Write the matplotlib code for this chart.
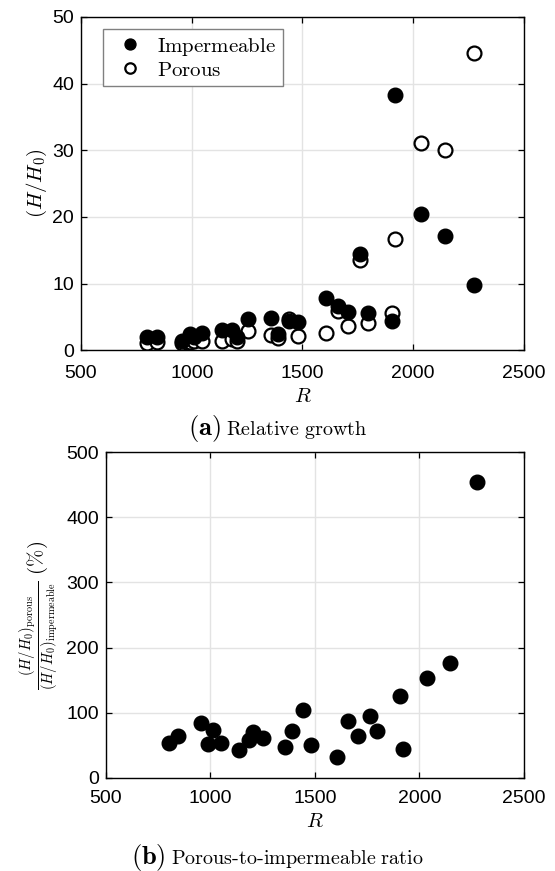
# Relative growth of H for impermeable vs porous cases, and porous/impermeable ratio
import matplotlib
matplotlib.use("Agg")
import matplotlib.pyplot as plt

# R values (shared by both panels)
R = [800, 845, 957, 990, 1010, 1048, 1137, 1182, 1205, 1252, 1358, 1389,
     1441, 1480, 1605, 1660, 1705, 1761, 1796, 1905, 1919, 2035, 2144, 2276]
# (H/H0) impermeable
H_imp = [1.95, 1.9, 1.3, 2.4, 1.9, 2.6, 3.0, 3.0, 1.9, 4.6, 4.75, 2.4,
         4.4, 4.2, 7.85, 6.65, 5.75, 14.4, 5.6, 4.4, 38.25, 20.4, 17.1, 9.85]
# (H/H0) porous
H_por = [1.05, 1.2, 1.1, 1.25, 1.4, 1.35, 1.3, 1.7, 1.35, 2.8, 2.3, 1.75,
         4.6, 2.1, 2.5, 5.85, 3.6, 13.6, 4.0, 5.5, 16.7, 31.15, 30.05, 44.65]
# porous-to-impermeable ratio (%)
ratio = [53, 65, 84, 52, 73, 53, 43, 58, 71, 61, 48, 72,
         105, 50, 32, 87, 64, 95, 72, 126, 44, 153, 176, 454]

plt.rcParams["mathtext.fontset"] = "cm"
plt.rcParams["font.family"] = ["Liberation Sans", "DejaVu Sans"]

TICK_FS = 14
GRID_C = "#e3e3e3"
H = 871.0


def style_axes(ax, xpad):
    ax.grid(True, color=GRID_C, linewidth=1.0)
    ax.set_axisbelow(True)
    ax.tick_params(direction="in", length=4, width=0.9, top=True, right=True,
                   labelsize=TICK_FS, pad=5)
    ax.tick_params(axis="x", pad=xpad)
    for s in ax.spines.values():
        s.set_linewidth(1.0)
        s.set_color("black")


def caption(fig, label, text, ypix):
    # bold label + small roman text, centred on the figure as a pair
    y = 1 - ypix / H
    t1 = fig.text(0, y, label, fontsize=19, ha="left", va="center")
    t2 = fig.text(0, y - 2 / H, text, fontsize=14.5, ha="left", va="center")
    r = fig.canvas.get_renderer()
    w1 = t1.get_window_extent(r).width
    w2 = t2.get_window_extent(r).width
    gap = 5
    x0 = (555 - (w1 + gap + w2)) / 2
    t1.set_x(x0 / 555)
    t2.set_x((x0 + w1 + gap) / 555)


fig = plt.figure(figsize=(5.55, 8.71), dpi=100)

# (a) relative growth
ax1 = fig.add_axes([0.146, 0.598, 0.798, 0.3825])
p_por, = ax1.plot(R, H_por, "o", ms=10, mfc="white", mec="black", mew=1.6, zorder=3)
p_imp, = ax1.plot(R, H_imp, "o", ms=10.5, mfc="black", mec="black", zorder=4)
ax1.set_xlim(500, 2500)
ax1.set_ylim(0, 50)
ax1.set_xticks([500, 1000, 1500, 2000, 2500])
ax1.set_yticks([0, 10, 20, 30, 40, 50])
style_axes(ax1, 10.5)
ax1.set_xlabel(r"$R$", fontsize=15)
ax1.xaxis.set_label_coords(0.5, -0.138)
ax1.xaxis.label.set_va("center")
ax1.set_ylabel(r"$(H/H_0)$", fontsize=15, labelpad=2)
leg = ax1.legend([p_imp, p_por], [r"$\mathrm{Impermeable}$", r"$\mathrm{Porous}$"],
                 loc="upper left", bbox_to_anchor=(0.05, 0.963), borderaxespad=0,
                 fontsize=15, markerscale=0.75, handletextpad=0.3, borderpad=0.3,
                 labelspacing=0.15, fancybox=False, framealpha=1)
leg.get_frame().set_edgecolor("#808080")
leg.get_frame().set_linewidth(1.0)

# (b) porous-to-impermeable ratio
ax2 = fig.add_axes([0.191, 0.1068, 0.753, 0.3742])
ax2.plot(R, ratio, "o", ms=10.5, mfc="black", mec="black", zorder=3)
ax2.set_xlim(500, 2500)
ax2.set_ylim(0, 500)
ax2.set_xticks([500, 1000, 1500, 2000, 2500])
ax2.set_yticks([0, 100, 200, 300, 400, 500])
style_axes(ax2, 8.5)
ax2.set_xlabel(r"$R$", fontsize=15)
ax2.xaxis.set_label_coords(0.5, -0.135)
ax2.xaxis.label.set_va("center")
ax2.set_ylabel(r"$\frac{(H/H_0)_{\mathrm{porous}}}{(H/H_0)_{\mathrm{impermeable}}}\ \mathrm{(\%)}$",
               fontsize=15, labelpad=4)

caption(fig, r"$\mathbf{(a)}$", r"$\mathrm{Relative\ growth}$", 428)
caption(fig, r"$\mathbf{(b)}$", r"$\mathrm{Porous\text{-}to\text{-}impermeable\ ratio}$", 857)

fig.savefig("out.png", dpi=100)
